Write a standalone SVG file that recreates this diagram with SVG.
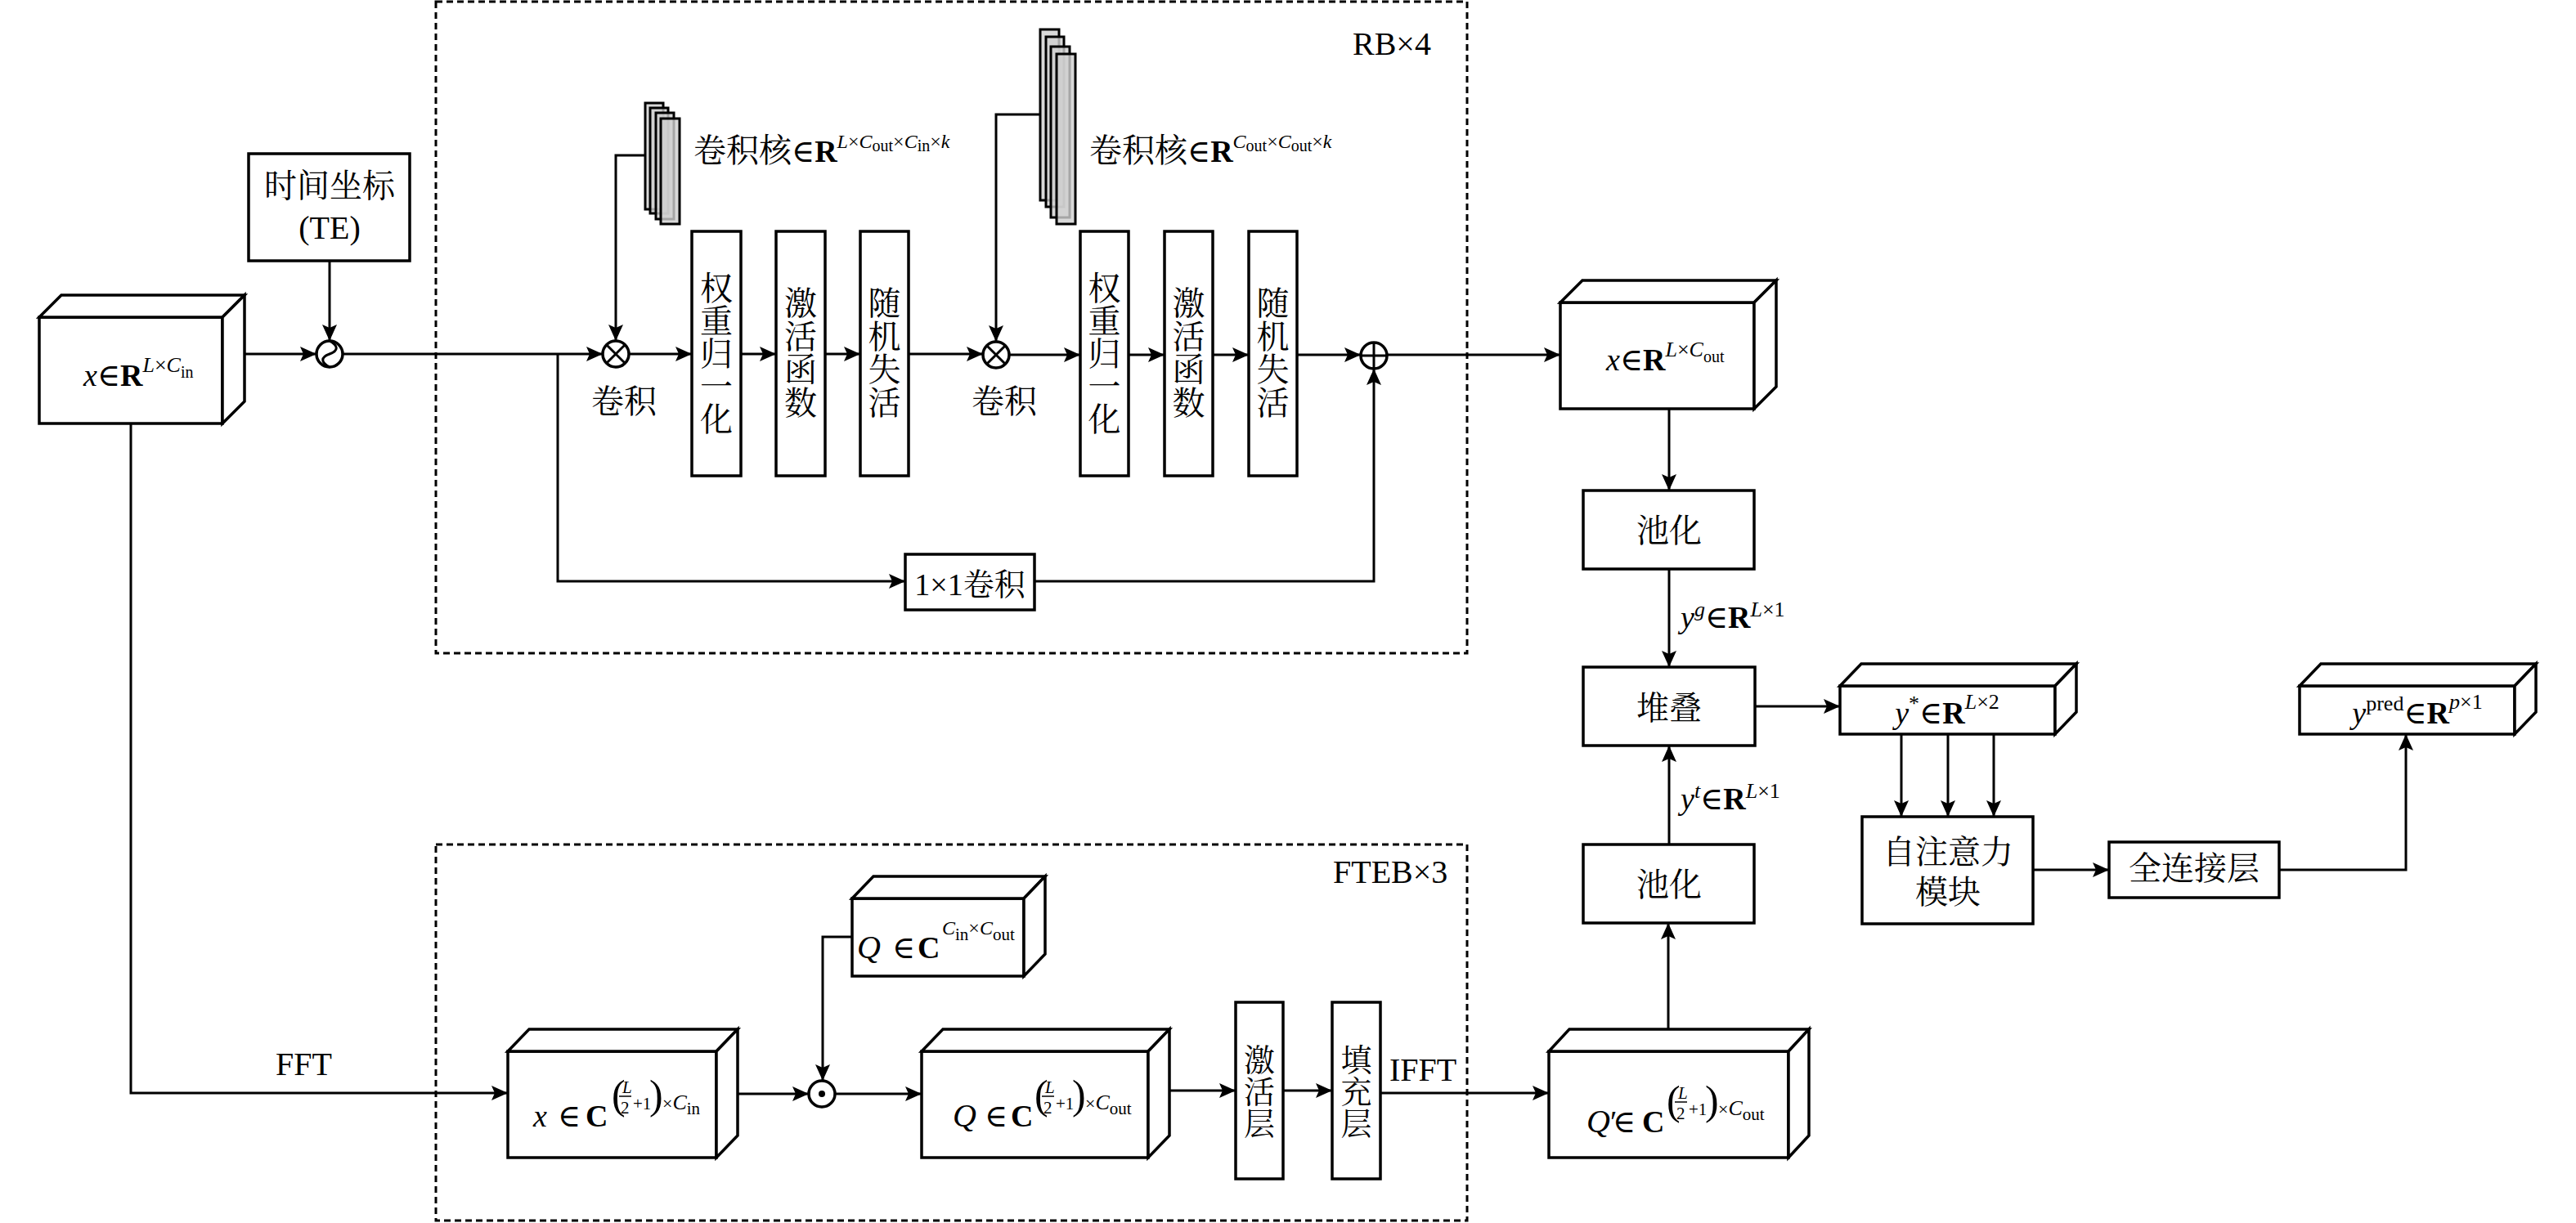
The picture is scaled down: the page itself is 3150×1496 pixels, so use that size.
<svg xmlns="http://www.w3.org/2000/svg" width="3150" height="1496" viewBox="0 0 3150 1496">
<defs>
<marker id="ah" markerUnits="userSpaceOnUse" markerWidth="22" markerHeight="20" refX="20" refY="9" orient="auto"><path d="M0,0 L20,9 L0,18 L4,9 Z" fill="#000"/></marker>
<style>
.box{fill:#fff;stroke:#000;stroke-width:3.5;stroke-linejoin:miter}
.ln{fill:none;stroke:#000;stroke-width:3}
.arr{marker-end:url(#ah)}
.dash{fill:none;stroke:#000;stroke-width:3;stroke-dasharray:8 5}
.kern{fill:#d0d0d0;fill-opacity:0.8;stroke:#000;stroke-width:3}
.cn{font-family:"Liberation Serif","Noto Serif CJK SC","Noto Sans CJK SC",serif;font-size:40px;fill:#000}
.m{font-family:"Liberation Serif","DejaVu Serif",serif;font-size:38px;fill:#000}
.i{font-style:italic}
.b{font-weight:bold}
.s50{font-size:50px}
.s40{font-size:40px}
.s38{font-size:38px}
.s26{font-size:26px}
.s24{font-size:24px}
.s22{font-size:22px}
.s21{font-size:21px}
.s20{font-size:20px}
.sym{fill:#fff;stroke:#000;stroke-width:3.5}
</style>
</defs>
<rect width="3150" height="1496" fill="#fff"/>

<g id="rb-frame">
<rect class="dash" x="533" y="2" width="1261" height="797"/>
<text class="m s40" x="1654" y="67">RB×4</text>
</g>
<g id="fteb-frame">
<rect class="dash" x="533" y="1033" width="1261" height="460"/>
<text class="m s40" x="1630" y="1080">FTEB×3</text>
</g>

<g id="connectors">
<path class="ln arr" d="M272,433 H387"/>
<path class="ln arr" d="M403,319 V417"/>
<path class="ln arr" d="M419,433 H737"/>
<path class="ln arr" d="M682,433 V711 H1107"/>
<path class="ln arr" d="M789,190 H753 V417"/>
<path class="ln arr" d="M769,433 H846"/>
<path class="ln arr" d="M906,433 H949"/>
<path class="ln arr" d="M1009,433 H1052"/>
<path class="ln arr" d="M1111,433 H1202"/>
<path class="ln arr" d="M1272,140 H1218 V418"/>
<path class="ln arr" d="M1234,434 H1321"/>
<path class="ln arr" d="M1380,434 H1424"/>
<path class="ln arr" d="M1483,434 H1527"/>
<path class="ln arr" d="M1586,434 H1664"/>
<path class="ln arr" d="M1265,711 H1680 V451"/>
<path class="ln arr" d="M1696,434 H1908"/>
<path class="ln arr" d="M2041,500 V600"/>
<path class="ln arr" d="M2041,696 V816"/>
<path class="ln arr" d="M2041,1033 V912"/>
<path class="ln arr" d="M2040,1259 V1129"/>
<path class="ln arr" d="M2146,864 H2250"/>
<path class="ln arr" d="M2325,898 V999"/>
<path class="ln arr" d="M2382,898 V999"/>
<path class="ln arr" d="M2438,898 V999"/>
<path class="ln arr" d="M2486,1064 H2579"/>
<path class="ln arr" d="M2787,1064 H2942 V898"/>
<path class="ln arr" d="M160,518 V1337 H621"/>
<path class="ln arr" d="M876,1338 H989"/>
<path class="ln arr" d="M1042,1146 H1006 V1322"/>
<path class="ln arr" d="M1021,1338 H1127"/>
<path class="ln arr" d="M1404,1334 H1511"/>
<path class="ln arr" d="M1569,1334 H1629"/>
<path class="ln arr" d="M1688,1337 H1894"/>
<text class="m s40" x="337" y="1315">FFT</text>
<text class="m s40" x="1699" y="1322">IFFT</text>
<text class="m" x="2055" y="768"><tspan class="i">y</tspan><tspan class="i s26" dy="-14">g</tspan><tspan dy="14">∈</tspan><tspan class="b">R</tspan><tspan class="i s26" dy="-14">L</tspan><tspan class="s26">×1</tspan></text>
<text class="m" x="2055" y="990"><tspan class="i">y</tspan><tspan class="i s26" dy="-14">t</tspan><tspan dy="14">∈</tspan><tspan class="b">R</tspan><tspan class="i s26" dy="-14">L</tspan><tspan class="s26">×1</tspan></text>
<text class="cn" x="763" y="505" text-anchor="middle">卷积</text>
<text class="cn" x="1228" y="505" text-anchor="middle">卷积</text>
</g>

<g id="input-x">
<rect class="box" x="48" y="388" width="224" height="130"/>
<polygon class="box" points="48,388 75,361 299,361 272,388"/>
<polygon class="box" points="272,388 299,361 299,491 272,518"/>
<text class="m" x="102" y="472"><tspan class="i">x</tspan>∈<tspan class="b">R</tspan><tspan class="i s26" dy="-17">L</tspan><tspan class="s26">×</tspan><tspan class="i s26">C</tspan><tspan class="s20" dy="7">in</tspan></text>
</g>

<g id="te">
<rect class="box" x="304" y="188" width="197" height="131"/>
<text class="cn" x="403" y="241" text-anchor="middle">时间坐标</text>
<text class="m s40" x="403" y="292" text-anchor="middle">(TE)</text>
</g>

<g id="te-merge">
<circle class="sym" cx="403" cy="433" r="16"/>
<path class="ln" d="M403,417 C414,423 414,429 403,433 C392,437 392,443 403,449"/>
</g>

<g id="conv1">
<circle class="sym" cx="753" cy="433" r="16"/>
<path class="ln" d="M741.7,421.7 L764.3,444.3 M764.3,421.7 L741.7,444.3"/>
</g>
<g id="kernel1">
<rect class="kern" x="789" y="126" width="22" height="130"/>
<rect class="kern" x="795" y="132" width="22" height="129"/>
<rect class="kern" x="802" y="138" width="22" height="130"/>
<rect class="kern" x="808" y="145" width="23" height="129"/>
<text class="cn" x="848" y="198">卷积核<tspan class="m">∈</tspan><tspan class="m b">R</tspan><tspan class="m i s24" dy="-17">L</tspan><tspan class="m s24">×</tspan><tspan class="m i s24">C</tspan><tspan class="m s20" dy="4">out</tspan><tspan class="m s24" dy="-4">×</tspan><tspan class="m i s24">C</tspan><tspan class="m s20" dy="4">in</tspan><tspan class="m s24" dy="-4">×</tspan><tspan class="m i s24">k</tspan></text>
</g>
<g id="wn1">
<rect class="box" x="846" y="283" width="60" height="299"/>
<text class="cn" text-anchor="middle"><tspan x="876" y="367">权</tspan><tspan x="876" y="407">重</tspan><tspan x="876" y="447">归</tspan><tspan x="876" y="487">一</tspan><tspan x="876" y="527">化</tspan></text>
</g>
<g id="act1">
<rect class="box" x="949" y="283" width="60" height="299"/>
<text class="cn" text-anchor="middle"><tspan x="979" y="385">激</tspan><tspan x="979" y="426">活</tspan><tspan x="979" y="466">函</tspan><tspan x="979" y="507">数</tspan></text>
</g>
<g id="drop1">
<rect class="box" x="1052" y="283" width="59" height="299"/>
<text class="cn" text-anchor="middle"><tspan x="1081.5" y="385">随</tspan><tspan x="1081.5" y="426">机</tspan><tspan x="1081.5" y="466">失</tspan><tspan x="1081.5" y="507">活</tspan></text>
</g>

<g id="conv2">
<circle class="sym" cx="1218" cy="434" r="16"/>
<path class="ln" d="M1206.7,422.7 L1229.3,445.3 M1229.3,422.7 L1206.7,445.3"/>
</g>
<g id="kernel2">
<rect class="kern" x="1272" y="36" width="23" height="209"/>
<rect class="kern" x="1279" y="45" width="22" height="208"/>
<rect class="kern" x="1285" y="57" width="23" height="209"/>
<rect class="kern" x="1292" y="66" width="23" height="208"/>
<text class="cn" x="1332" y="198">卷积核<tspan class="m">∈</tspan><tspan class="m b">R</tspan><tspan class="m i s24" dy="-17">C</tspan><tspan class="m s20" dy="4">out</tspan><tspan class="m s24" dy="-4">×</tspan><tspan class="m i s24">C</tspan><tspan class="m s20" dy="4">out</tspan><tspan class="m s24" dy="-4">×</tspan><tspan class="m i s24">k</tspan></text>
</g>
<g id="wn2">
<rect class="box" x="1321" y="283" width="59" height="299"/>
<text class="cn" text-anchor="middle"><tspan x="1350.5" y="367">权</tspan><tspan x="1350.5" y="407">重</tspan><tspan x="1350.5" y="447">归</tspan><tspan x="1350.5" y="487">一</tspan><tspan x="1350.5" y="527">化</tspan></text>
</g>
<g id="act2">
<rect class="box" x="1424" y="283" width="59" height="299"/>
<text class="cn" text-anchor="middle"><tspan x="1453.5" y="385">激</tspan><tspan x="1453.5" y="426">活</tspan><tspan x="1453.5" y="466">函</tspan><tspan x="1453.5" y="507">数</tspan></text>
</g>
<g id="drop2">
<rect class="box" x="1527" y="283" width="59" height="299"/>
<text class="cn" text-anchor="middle"><tspan x="1556.5" y="385">随</tspan><tspan x="1556.5" y="426">机</tspan><tspan x="1556.5" y="466">失</tspan><tspan x="1556.5" y="507">活</tspan></text>
</g>
<g id="add">
<circle class="sym" cx="1680" cy="435" r="16"/>
<path class="ln" d="M1664,435 H1696 M1680,419 V451"/>
</g>
<g id="conv1x1">
<rect class="box" x="1107" y="678" width="158" height="68"/>
<text class="cn s38" x="1186" y="728" text-anchor="middle"><tspan class="m">1×1</tspan>卷积</text>
</g>

<g id="x-out">
<rect class="box" x="1908" y="370" width="237" height="130"/>
<polygon class="box" points="1908,370 1935,343 2172,343 2145,370"/>
<polygon class="box" points="2145,370 2172,343 2172,473 2145,500"/>
<text class="m" x="1964" y="453"><tspan class="i">x</tspan>∈<tspan class="b">R</tspan><tspan class="i s26" dy="-17">L</tspan><tspan class="s26">×</tspan><tspan class="i s26">C</tspan><tspan class="s20" dy="7">out</tspan></text>
</g>
<g id="pool1">
<rect class="box" x="1936" y="600" width="209" height="96"/>
<text class="cn" x="2041" y="663" text-anchor="middle">池化</text>
</g>
<g id="stack">
<rect class="box" x="1936" y="816" width="210" height="96"/>
<text class="cn" x="2041" y="880" text-anchor="middle">堆叠</text>
</g>
<g id="pool2">
<rect class="box" x="1936" y="1033" width="209" height="96"/>
<text class="cn" x="2041" y="1096" text-anchor="middle">池化</text>
</g>
<g id="y-star">
<rect class="box" x="2250" y="839" width="263" height="59"/>
<polygon class="box" points="2250,839 2276,812 2539,812 2513,839"/>
<polygon class="box" points="2513,839 2539,812 2539,871 2513,898"/>
<text class="m" x="2381" y="885" text-anchor="middle"><tspan class="i">y</tspan><tspan class="s26" dy="-16">*</tspan><tspan dy="16">∈</tspan><tspan class="b">R</tspan><tspan class="i s26" dy="-18">L</tspan><tspan class="s26">×2</tspan></text>
</g>
<g id="self-attention">
<rect class="box" x="2277" y="999" width="209" height="131"/>
<text class="cn" x="2382" y="1056" text-anchor="middle">自注意力</text>
<text class="cn" x="2382" y="1105" text-anchor="middle">模块</text>
</g>
<g id="fc">
<rect class="box" x="2579" y="1030" width="208" height="68"/>
<text class="cn" x="2683" y="1076" text-anchor="middle">全连接层</text>
</g>
<g id="y-pred">
<rect class="box" x="2812" y="839" width="263" height="59"/>
<polygon class="box" points="2812,839 2838,812 3101,812 3075,839"/>
<polygon class="box" points="3075,839 3101,812 3101,871 3075,898"/>
<text class="m" x="2956" y="885" text-anchor="middle"><tspan class="i">y</tspan><tspan class="s26" dy="-16">pred</tspan><tspan dy="16">∈</tspan><tspan class="b">R</tspan><tspan class="i s26" dy="-18">p</tspan><tspan class="s26">×1</tspan></text>
</g>

<g id="x-freq">
<rect class="box" x="621" y="1286" width="255" height="130"/>
<polygon class="box" points="621,1286 647,1259 902,1259 876,1286"/>
<polygon class="box" points="876,1286 902,1259 902,1389 876,1416"/>
<text class="m" y="1378"><tspan x="652" class="i">x</tspan><tspan x="682">∈</tspan><tspan x="716" class="b">C</tspan></text>
<text class="m s50" x="748" y="1356">(</text>
<text class="m i s21" x="761" y="1337">L</text>
<line x1="757" y1="1341" x2="772" y2="1341" stroke="#000" stroke-width="1.5"/>
<text class="m s21" x="759" y="1362">2</text>
<text class="m s21" x="774" y="1357">+1</text>
<text class="m s50" x="794" y="1356">)</text>
<text class="m s22" x="810" y="1357">×<tspan class="i s26">C</tspan><tspan class="s21" dy="6">in</tspan></text>
</g>
<g id="q-weight">
<rect class="box" x="1042" y="1099" width="210" height="95"/>
<polygon class="box" points="1042,1099 1068,1072 1278,1072 1252,1099"/>
<polygon class="box" points="1252,1099 1278,1072 1278,1167 1252,1194"/>
<text class="m" y="1172"><tspan x="1048" class="i s40">Q</tspan><tspan x="1091">∈</tspan><tspan x="1122" class="b">C</tspan></text>
<text class="m s24" x="1152" y="1143"><tspan class="i">C</tspan><tspan class="s21" dy="7">in</tspan><tspan dy="-7">×</tspan><tspan class="i">C</tspan><tspan class="s21" dy="7">out</tspan></text>
</g>
<g id="mul">
<circle class="sym" cx="1005" cy="1338" r="16"/>
<circle cx="1005" cy="1338" r="4" fill="#000"/>
</g>
<g id="q-mid">
<rect class="box" x="1127" y="1286" width="277" height="130"/>
<polygon class="box" points="1127,1286 1153,1259 1430,1259 1404,1286"/>
<polygon class="box" points="1404,1286 1430,1259 1430,1389 1404,1416"/>
<text class="m" y="1378"><tspan x="1165" class="i s40">Q</tspan><tspan x="1204">∈</tspan><tspan x="1236" class="b">C</tspan></text>
<text class="m s50" x="1265" y="1356">(</text>
<text class="m i s21" x="1278" y="1337">L</text>
<line x1="1274" y1="1341" x2="1289" y2="1341" stroke="#000" stroke-width="1.5"/>
<text class="m s21" x="1276" y="1362">2</text>
<text class="m s21" x="1291" y="1357">+1</text>
<text class="m s50" x="1311" y="1356">)</text>
<text class="m s22" x="1327" y="1357">×<tspan class="i s26">C</tspan><tspan class="s21" dy="6">out</tspan></text>
</g>
<g id="act-layer">
<rect class="box" x="1511" y="1226" width="58" height="216"/>
<text class="cn s38" text-anchor="middle"><tspan x="1540" y="1310">激</tspan><tspan x="1540" y="1349">活</tspan><tspan x="1540" y="1388">层</tspan></text>
</g>
<g id="pad-layer">
<rect class="box" x="1629" y="1226" width="59" height="216"/>
<text class="cn s38" text-anchor="middle"><tspan x="1658.5" y="1310">填</tspan><tspan x="1658.5" y="1349">充</tspan><tspan x="1658.5" y="1388">层</tspan></text>
</g>
<g id="q-prime">
<rect class="box" x="1894" y="1286" width="293" height="130"/>
<polygon class="box" points="1894,1286 1919,1259 2212,1259 2187,1286"/>
<polygon class="box" points="2187,1286 2212,1259 2212,1389 2187,1416"/>
<text class="m" y="1385"><tspan x="1940" class="i s40">Q</tspan><tspan>′</tspan><tspan x="1972">∈</tspan><tspan x="2008" class="b">C</tspan></text>
<text class="m s50" x="2038" y="1363">(</text>
<text class="m i s21" x="2052" y="1344">L</text>
<line x1="2048" y1="1348" x2="2063" y2="1348" stroke="#000" stroke-width="1.5"/>
<text class="m s21" x="2050" y="1369">2</text>
<text class="m s21" x="2065" y="1364">+1</text>
<text class="m s50" x="2085" y="1363">)</text>
<text class="m s22" x="2101" y="1364">×<tspan class="i s26">C</tspan><tspan class="s21" dy="6">out</tspan></text>
</g>
</svg>
